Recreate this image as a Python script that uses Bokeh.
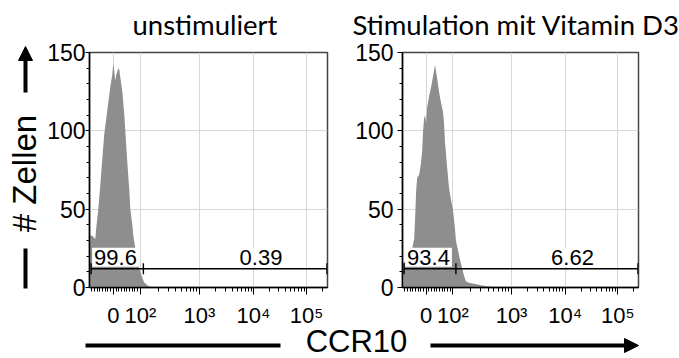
import math
from bokeh.plotting import figure
from bokeh.layouts import row, column
from bokeh.models import Range1d, FixedTicker, Label, Arrow, NormalHead
from bokeh.embed import file_html
from bokeh.resources import INLINE
from bokeh.core.properties import value

# ---- data -------------------------------------------------------------
# x is on the displayed (biexponential) CCR10 scale, 1 unit ~ 1 decade
tick_pos = [0.0, 0.5, 1.593, 2.593, 3.574]
tick_labels = ["0", "10²", "10³", "10⁴", "10⁵"]
x_lo, x_hi = -0.44, 3.96

y_ticks = [0, 50, 100, 150]
y_minor = [10, 20, 30, 40, 60, 70, 80, 90, 110, 120, 130, 140]

titles = ["unstimuliert", "Stimulation mit Vitamin D3"]

left_x = [-0.444, -0.389, -0.333, -0.315, -0.278, -0.241, -0.204, -0.167, -0.130,
          -0.093, -0.056, -0.019, 0.0, 0.019, 0.037, 0.056, 0.093, 0.111, 0.130,
          0.167, 0.204, 0.222, 0.259, 0.296, 0.315, 0.352, 0.370, 0.407, 0.444,
          0.481, 0.500, 0.537, 0.574, 0.611, 0.648, 0.685, 0.722]
left_y = [33, 33, 31, 38, 50, 65, 82, 98, 108,
          118, 128, 136, 143, 138, 132, 136, 140, 139, 134,
          125, 110, 100, 80, 62, 50, 40, 33, 25, 18,
          12, 10, 6, 3, 2, 1, 0.5, 0]

right_x = [-0.426, -0.370, -0.315, -0.259, -0.222, -0.204, -0.185, -0.167, -0.130,
           -0.093, -0.074, -0.056, -0.037, -0.019, 0.0, 0.019, 0.056, 0.093, 0.130,
           0.167, 0.185, 0.204, 0.241, 0.278, 0.315, 0.333, 0.352, 0.389, 0.426,
           0.463, 0.500, 0.537, 0.556, 0.593, 0.630, 0.667, 0.704, 0.741, 0.796,
           0.870, 0.944, 1.019, 1.111, 1.204, 1.296]
right_y = [16, 17, 20, 25, 31, 45, 62, 70, 72,
           80, 87, 100, 108, 110, 105, 115, 122, 128, 135,
           142, 138, 134, 125, 118, 112, 106, 93, 78, 64,
           56, 50, 38, 30, 24, 18, 13, 8, 4, 3,
           2.5, 2, 1.5, 1, 0.5, 0]

gate_edges = [-0.41, 0.556, 3.95]
gate_level = 12
left_pcts = ["99.6", "0.39"]
right_pcts = ["93.4", "6.62"]
pct_right_x = 2.73

# minor ticks of the biexponential axis
minor_x = []
for i in range(1, 4):
    a, b = tick_pos[i], tick_pos[i + 1]
    minor_x += [a + math.log10(k) * (b - a) for k in range(2, 10)]
d = tick_pos[4] - tick_pos[3]
minor_x += [tick_pos[4] + math.log10(k) * d for k in range(2, 10)
            if tick_pos[4] + math.log10(k) * d < x_hi]
minor_x += [j * 0.05 for j in range(-8, 10) if j != 0]

ARIAL = "Liberation Sans"
W, H = 679, 358
YL_W = 44          # strip with the y label
TOP_H = 40         # strip with the titles
OVERLAP = 8        # x-label strip overlaps the panel bottoms (transparent)
BOT_H = 36         # strip with the x label
PANEL_H = H - TOP_H - BOT_H + OVERLAP


def blank(width, height, x0, y0):
    f = figure(width=width, height=height, x_range=Range1d(x0, x0 + width),
               y_range=Range1d(y0 + height, y0), output_backend="svg",
               toolbar_location=None, min_border=0,
               x_axis_location=None, y_axis_location=None)
    f.title = None
    f.grid.visible = False
    f.outline_line_color = None
    return f


def panel(xs, ys, pcts, width, bl, br, tick_out, standoff):
    p = figure(width=width, height=PANEL_H, x_range=Range1d(x_lo, x_hi),
               y_range=Range1d(0, 150), output_backend="svg",
               toolbar_location=None, min_border_left=bl, min_border_right=br,
               min_border_top=52 - TOP_H, min_border_bottom=TOP_H + PANEL_H - 288)
    p.title = None

    p.varea(x=xs, y1=0, y2=ys, fill_color="#8e8e8e")

    gx = [gate_edges[0], gate_edges[1]]
    gx1 = [gate_edges[1], gate_edges[2]]
    p.segment(x0=gx, y0=[gate_level] * 2, x1=gx1, y1=[gate_level] * 2,
              line_color="black", line_width=1.6)
    p.scatter(x=gate_edges, y=[gate_level] * 3, marker="dash", angle=math.pi / 2,
              size=11, line_color="black", line_width=1.4)

    p.add_layout(Label(x=gate_edges[0], y=gate_level, text=pcts[0],
                       text_align="left", text_baseline="bottom", x_offset=1,
                       y_offset=2, background_fill_color="white",
                       text_color="black",
                       text_font=ARIAL, text_font_size="22px", padding=2))
    p.add_layout(Label(x=pct_right_x, y=gate_level, text=pcts[1],
                       text_align="center", text_baseline="bottom",
                       y_offset=2, background_fill_color="white",
                       text_color="black",
                       text_font=ARIAL, text_font_size="22px", padding=2))

    p.xaxis.ticker = FixedTicker(ticks=tick_pos, minor_ticks=minor_x)
    p.xaxis.major_label_overrides = dict(zip(tick_pos, tick_labels))
    p.yaxis.ticker = FixedTicker(ticks=y_ticks, minor_ticks=y_minor)

    p.xaxis.major_tick_out = 7
    p.xaxis.minor_tick_out = 4
    p.xaxis.major_label_standoff = 8
    p.xaxis.major_label_text_font_size = "22px"
    p.yaxis.major_tick_out = tick_out
    p.yaxis.minor_tick_out = 3
    p.yaxis.major_label_standoff = standoff
    p.yaxis.major_label_text_font_size = "23px"
    for ax in (p.xaxis, p.yaxis):
        ax.major_tick_in = 0
        ax.minor_tick_in = 0
        ax.major_label_text_font = ARIAL
        ax.major_label_text_color = "black"
        ax.axis_line_color = "black"
        ax.axis_line_width = 1.5
        ax.major_tick_line_color = "black"
        ax.minor_tick_line_color = "black"

    p.grid.grid_line_color = "#d8d8d8"
    p.grid.grid_line_width = 1
    p.outline_line_color = "#444444"
    p.outline_line_width = 1.5
    p.background_fill_color = "white"
    p.border_fill_color = "white"
    return p


p_left = panel(left_x, left_y, left_pcts, 340 - YL_W, 45, 13, 4, 0)
p_right = panel(right_x, right_y, right_pcts, W - 340, 62, 41, 5, 4)

# titles strip (coordinates are page pixels)
top = blank(W - YL_W, TOP_H, YL_W, 0)
top.text(x=[132, 352], y=[24, 24], text=titles, text_align="left",
         text_baseline="middle", text_font=value("Lato"), text_font_size="27.5px",
         text_color="black")

# y label strip
yl = blank(YL_W, H, 0, 0)
yl.add_layout(Arrow(end=NormalHead(size=14, fill_color="black", line_color="black"),
                    x_start=25, y_start=92, x_end=25, y_end=46,
                    line_width=4, line_color="black"))
yl.text(x=[24], y=[173], text=["# Zellen"], angle=math.pi / 2,
        text_align="center", text_baseline="middle", text_font=value(ARIAL),
        text_font_size="33px", text_color="black")
yl.segment(x0=[25], y0=[248], x1=[25], y1=[288], line_width=4, line_color="black")

# x label strip (transparent, pulled up over the panel bottoms)
xl = blank(W - YL_W, BOT_H, YL_W, H - BOT_H)
xl.background_fill_color = None
xl.border_fill_color = None
xl.margin = (-OVERLAP, 0, 0, 0)
xl.segment(x0=[85], y0=[345], x1=[280], y1=[345], line_width=4, line_color="black")
xl.add_layout(Arrow(end=NormalHead(size=14, fill_color="black", line_color="black"),
                    x_start=430, y_start=345, x_end=638, y_end=345,
                    line_width=4, line_color="black"))
xl.text(x=[356], y=[H - BOT_H + 1], text=["CCR10"], text_align="center",
        text_baseline="top", text_font=value(ARIAL), text_font_size="31px",
        text_color="black")

layout = row(yl, column(top, row(p_left, p_right), xl))
open("out.html", "w").write(file_html(layout, INLINE))
